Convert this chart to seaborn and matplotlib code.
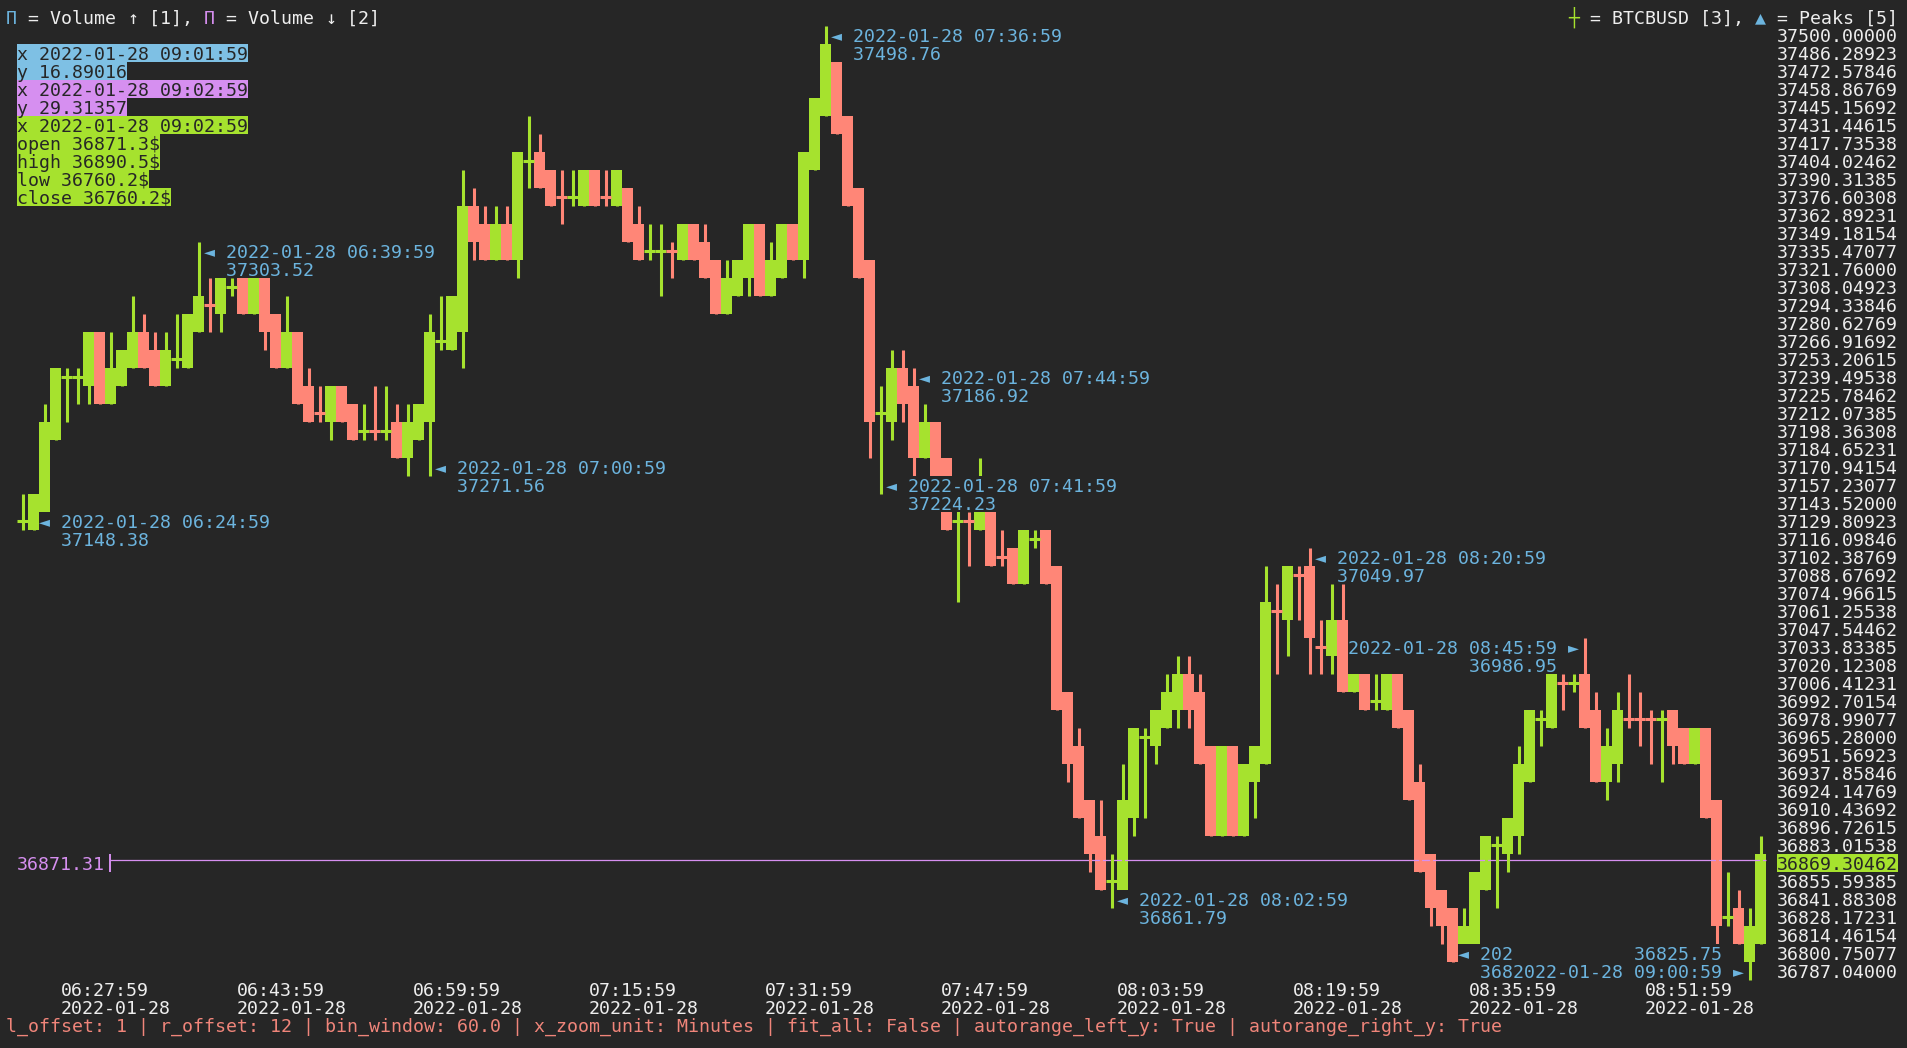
import numpy as np
import matplotlib
matplotlib.use("Agg")
import matplotlib.pyplot as plt
from matplotlib.patches import Rectangle
import seaborn as sns

# ---------------- data ----------------
candle_index = list(range(-1, 158))  # minutes after 2022-01-28 06:24:59

opens = [
    37128.8, 37123.0, 37136.7, 37191.5, 37238.5, 37238.5, 37232.6, 37273.8, 37218.9, 37232.6,
    37246.4, 37273.8, 37260.1, 37232.6, 37252.2, 37246.4, 37273.8, 37295.3, 37287.5, 37307.1,
    37314.9, 37287.5, 37314.9, 37287.5, 37246.4, 37273.8, 37232.6, 37213.1, 37205.2, 37232.6,
    37218.9, 37197.4, 37199.4, 37197.4, 37205.2, 37177.8, 37191.5, 37205.2, 37265.9, 37260.1,
    37273.8, 37369.8, 37356.0, 37328.6, 37356.0, 37328.6, 37403.0, 37410.9, 37397.2, 37377.6,
    37375.6, 37369.8, 37397.2, 37377.6, 37369.8, 37383.5, 37356.0, 37334.5, 37334.5, 37336.5,
    37328.6, 37356.0, 37342.3, 37328.6, 37287.5, 37301.2, 37314.9, 37356.0, 37301.2, 37314.9,
    37356.0, 37328.6, 37397.2, 37438.3, 37479.4, 37438.3, 37383.5, 37328.6, 37211.1, 37205.2,
    37246.4, 37232.6, 37177.8, 37205.2, 37177.8, 37128.8, 37130.8, 37123.0, 37136.7, 37103.4,
    37109.3, 37081.8, 37115.1, 37123.0, 37095.5, 36999.6, 36958.4, 36917.3, 36889.9, 36854.6,
    36848.7, 36903.6, 36964.3, 36958.4, 36972.1, 36985.9, 37013.3, 36999.6, 36958.4, 36889.9,
    36958.4, 36889.9, 36931.0, 36944.7, 37062.3, 37054.4, 37089.7, 37095.5, 37034.8, 37027.0,
    37054.4, 36999.6, 37013.3, 36991.7, 36985.9, 37013.3, 36985.9, 36931.0, 36876.2, 36848.7,
    36835.0, 36807.6, 36807.6, 36848.7, 36882.0, 36876.2, 36889.9, 36931.0, 36978.0, 36972.1,
    37007.4, 37005.4, 37013.3, 36985.9, 36931.0, 36944.7, 36980.0, 36980.0, 36980.0, 36978.0,
    36985.9, 36972.1, 36944.7, 36972.1, 36917.3, 36827.2, 36835.0, 36793.9, 36807.6]

highs = [
    37150.4, 37150.4, 37218.9, 37246.4, 37246.4, 37246.4, 37273.8, 37273.8, 37273.8, 37260.1,
    37301.2, 37287.5, 37273.8, 37273.8, 37287.5, 37287.5, 37342.3, 37314.9, 37314.9, 37314.9,
    37314.9, 37314.9, 37314.9, 37287.5, 37301.2, 37273.8, 37246.4, 37232.6, 37232.6, 37232.6,
    37218.9, 37218.9, 37232.6, 37232.6, 37218.9, 37218.9, 37218.9, 37287.5, 37301.2, 37301.2,
    37397.2, 37383.5, 37369.8, 37369.8, 37369.8, 37410.9, 37438.3, 37424.6, 37397.2, 37397.2,
    37397.2, 37397.2, 37397.2, 37397.2, 37397.2, 37383.5, 37369.8, 37356.0, 37356.0, 37342.3,
    37356.0, 37356.0, 37356.0, 37328.6, 37328.6, 37328.6, 37356.0, 37356.0, 37342.3, 37356.0,
    37356.0, 37410.9, 37452.0, 37506.9, 37479.4, 37438.3, 37383.5, 37328.6, 37232.6, 37260.1,
    37260.1, 37246.4, 37218.9, 37205.2, 37177.8, 37150.4, 37136.7, 37177.8, 37136.7, 37123.0,
    37109.3, 37123.0, 37123.0, 37123.0, 37095.5, 36999.6, 36972.1, 36917.3, 36917.3, 36876.2,
    36944.7, 36972.1, 36972.1, 36985.9, 37013.3, 37027.0, 37027.0, 37013.3, 36958.4, 36958.4,
    36958.4, 36944.7, 36958.4, 37095.5, 37081.8, 37095.5, 37095.5, 37109.3, 37054.4, 37081.8,
    37081.8, 37013.3, 37013.3, 37013.3, 37013.3, 37013.3, 36985.9, 36944.7, 36876.2, 36848.7,
    36835.0, 36835.0, 36862.5, 36889.9, 36889.9, 36903.6, 36958.4, 36985.9, 36985.9, 37013.3,
    37013.3, 37013.3, 37040.7, 36999.6, 36972.1, 36999.6, 37013.3, 36999.6, 36985.9, 36985.9,
    36985.9, 36972.1, 36972.1, 36972.1, 36917.3, 36862.5, 36848.7, 36835.0, 36889.9]

lows = [
    37123.0, 37123.0, 37136.7, 37191.5, 37205.2, 37218.9, 37218.9, 37218.9, 37218.9, 37232.6,
    37246.4, 37246.4, 37232.6, 37232.6, 37246.4, 37246.4, 37273.8, 37273.8, 37273.8, 37301.2,
    37287.5, 37287.5, 37260.1, 37246.4, 37246.4, 37218.9, 37205.2, 37205.2, 37191.5, 37205.2,
    37191.5, 37191.5, 37191.5, 37191.5, 37177.8, 37164.1, 37191.5, 37164.1, 37260.1, 37260.1,
    37246.4, 37328.6, 37328.6, 37328.6, 37328.6, 37314.9, 37383.5, 37383.5, 37369.8, 37356.0,
    37369.8, 37369.8, 37369.8, 37369.8, 37369.8, 37342.3, 37328.6, 37328.6, 37301.2, 37314.9,
    37328.6, 37328.6, 37314.9, 37287.5, 37287.5, 37301.2, 37301.2, 37301.2, 37301.2, 37314.9,
    37328.6, 37314.9, 37397.2, 37438.3, 37424.6, 37369.8, 37314.9, 37177.8, 37150.4, 37191.5,
    37205.2, 37164.1, 37177.8, 37164.1, 37123.0, 37068.1, 37095.5, 37123.0, 37095.5, 37095.5,
    37081.8, 37081.8, 37109.3, 37081.8, 36985.9, 36931.0, 36903.6, 36862.5, 36848.7, 36835.0,
    36848.7, 36889.9, 36903.6, 36944.7, 36972.1, 36972.1, 36972.1, 36944.7, 36889.9, 36889.9,
    36889.9, 36889.9, 36903.6, 36944.7, 37013.3, 37027.0, 37054.4, 37013.3, 37013.3, 37013.3,
    36999.6, 36999.6, 36985.9, 36985.9, 36985.9, 36972.1, 36917.3, 36862.5, 36821.3, 36807.6,
    36793.9, 36807.6, 36807.6, 36848.7, 36835.0, 36862.5, 36876.2, 36931.0, 36958.4, 36972.1,
    36985.9, 36999.6, 36972.1, 36931.0, 36917.3, 36931.0, 36972.1, 36958.4, 36944.7, 36931.0,
    36944.7, 36944.7, 36944.7, 36903.6, 36807.6, 36821.3, 36807.6, 36780.2, 36807.6]

closes = [
    37130.8, 37150.4, 37205.2, 37246.4, 37240.5, 37240.5, 37273.8, 37218.9, 37246.4, 37260.1,
    37273.8, 37246.4, 37232.6, 37260.1, 37254.2, 37287.5, 37301.2, 37293.3, 37314.9, 37309.1,
    37287.5, 37314.9, 37273.8, 37246.4, 37273.8, 37218.9, 37205.2, 37211.1, 37232.6, 37205.2,
    37191.5, 37199.4, 37197.4, 37199.4, 37177.8, 37205.2, 37218.9, 37273.8, 37267.9, 37301.2,
    37369.8, 37342.3, 37328.6, 37356.0, 37328.6, 37410.9, 37405.0, 37383.5, 37369.8, 37375.6,
    37377.6, 37397.2, 37369.8, 37375.6, 37397.2, 37342.3, 37328.6, 37336.5, 37336.5, 37334.5,
    37356.0, 37328.6, 37314.9, 37287.5, 37314.9, 37328.6, 37356.0, 37301.2, 37328.6, 37356.0,
    37328.6, 37410.9, 37452.0, 37493.1, 37424.6, 37369.8, 37314.9, 37205.2, 37213.1, 37246.4,
    37218.9, 37177.8, 37205.2, 37164.1, 37123.0, 37130.8, 37128.8, 37136.7, 37095.5, 37101.4,
    37081.8, 37123.0, 37117.1, 37081.8, 36985.9, 36944.7, 36903.6, 36876.2, 36848.7, 36856.6,
    36917.3, 36972.1, 36966.3, 36985.9, 36999.6, 37013.3, 36985.9, 36944.7, 36889.9, 36958.4,
    36889.9, 36944.7, 36958.4, 37068.1, 37060.3, 37095.5, 37087.7, 37040.7, 37032.8, 37054.4,
    36999.6, 37013.3, 36985.9, 36993.7, 37013.3, 36972.1, 36917.3, 36862.5, 36835.0, 36821.3,
    36793.9, 36821.3, 36862.5, 36889.9, 36884.0, 36903.6, 36944.7, 36985.9, 36980.0, 37013.3,
    37005.4, 37007.4, 36972.1, 36931.0, 36958.4, 36985.9, 36978.0, 36978.0, 36978.0, 36980.0,
    36958.4, 36944.7, 36972.1, 36903.6, 36821.3, 36829.2, 36807.6, 36821.3, 36876.2]

tick_index = [3, 19, 35, 51, 67, 83, 99, 115, 131, 147]
tick_times = ["06:27:59", "06:43:59", "06:59:59", "07:15:59", "07:31:59",
              "07:47:59", "08:03:59", "08:19:59", "08:35:59", "08:51:59"]
tick_dates = ["2022-01-28"] * 10

y_tick_top, y_tick_bottom, y_tick_count = 37500.0, 36787.04, 53

peak_index = [0, 15, 36, 72, 77, 80, 98, 116, 129, 141, 156]
peak_times = ["06:24:59", "06:39:59", "07:00:59", "07:36:59", "07:41:59", "07:44:59",
              "08:02:59", "08:20:59", "08:33:59", "08:45:59", "09:00:59"]
peak_values = [37148.38, 37303.52, 37271.56, 37498.76, 37224.23, 37186.92,
               36861.79, 37049.97, 36802.16, 36986.95, 36825.75]
peak_rows = [27, 12, 24, 0, 25, 19, 48, 29, 51, 34, 52]
peak_side = ["L", "L", "L", "L", "L", "L", "L", "L", "L", "R", "R"]
peak_flip = [False] * 10 + [True]

hline_price = 36871.31
hline_axis_value = 36869.30462

info_lines = ["x 2022-01-28 09:01:59", "y 16.89016",
              "x 2022-01-28 09:02:59", "y 29.31357",
              "x 2022-01-28 09:02:59", "open 36871.3$", "high 36890.5$",
              "low 36760.2$", "close 36760.2$"]
status_line = ("l_offset: 1 | r_offset: 12 | bin_window: 60.0 | x_zoom_unit: Minutes | "
               "fit_all: False | autorange_left_y: True | autorange_right_y: True")

# ---------------- style ----------------
W, H = 1907, 1048
BG = "#262626"
FG = "#eeeeee"
UP = "#a6e22e"
DOWN = "#ff8677"
BLUE = "#6cb4de"
INFO_BLUE = "#7ec0e4"
PINK = "#d68ff0"
STATUS = "#f0857a"
DARK = "#262626"
FS = 13.15
CW, CH = 11, 18      # terminal cell size in pixels
COL0, ROW0 = 6, 35   # left of column 0, centre of row 0

sns.set_theme(style="dark", rc={"axes.facecolor": BG, "figure.facecolor": BG,
                                "savefig.facecolor": BG})
plt.rcParams["font.family"] = ["DejaVu Sans Mono", "DejaVu Sans"]

fig = plt.figure(figsize=(W / 100, H / 100), dpi=100)
ax = fig.add_axes([0, 0, 1, 1])
ax.set_facecolor(BG)
ax.set_axisbelow(False)
for s in ax.spines.values():
    s.set_visible(False)
ax.grid(False)

# pixel <-> data mapping of the terminal grid
px_per_price = CH / 13.71077
ax.set_xlim((0 - (COL0 + 2 * CW + CW / 2)) / CW, (W - (COL0 + 2 * CW + CW / 2)) / CW)
ax.set_ylim(y_tick_top - (H - ROW0) / px_per_price, y_tick_top + ROW0 / px_per_price)

x = np.array(candle_index, dtype=float)
o = np.array(opens); h = np.array(highs); l = np.array(lows); c = np.array(closes)
up = c >= o
doji = np.abs(c - o) < 3
cols = np.where(up, UP, DOWN)

nd = ~doji
ax.bar(x[nd], np.abs(c - o)[nd], bottom=np.minimum(o, c)[nd], width=1.0,
       color=cols[nd], linewidth=0, antialiased=False, zorder=2)
ax.hlines(hline_price, (110 - 33.5) / CW, (1766 - 33.5) / CW, colors=PINK,
          linewidth=0.9, zorder=2.1)
ax.vlines(x, l, h, colors=cols, linewidth=2.2, zorder=2.2)
ax.hlines(((o + c) / 2)[doji], x[doji] - 0.5, x[doji] + 0.5, colors=cols[doji],
          linewidth=2.2, zorder=2.3)
ax.vlines((110 - 33.5) / CW, 36862.45, 36876.16, colors=PINK, linewidth=1.4, zorder=2.1)

# right price axis
yticks = np.linspace(y_tick_top, y_tick_bottom, y_tick_count)
ax.yaxis.tick_right()
ax.set_yticks(yticks)
ax.set_yticklabels([f"{v:.5f}" for v in yticks])
ax.tick_params(axis="y", which="both", length=0, pad=-(W - 1777) * 0.72,
               labelsize=FS, labelcolor=FG)
hl_i = int(np.argmin(np.abs(yticks - hline_axis_value)))
for t in ax.yaxis.get_major_ticks()[hl_i:hl_i + 1]:
    t.label1.set_color(DARK)
    t.label2.set_color(DARK)
ax.add_patch(Rectangle((158.5, 36862.45), 11.0, 13.71077, facecolor=UP,
                       edgecolor="none", clip_on=False, zorder=2.4))

# bottom time axis (two rows of labels)
tick_pos = [i - 0.5 for i in tick_index]
ax.set_xticks(tick_pos)
ax.set_xticklabels(tick_times)
ax.set_xticks(tick_pos, minor=True)
ax.set_xticklabels(tick_dates, minor=True)
ax.xaxis.remove_overlapping_locs = False
ax.tick_params(axis="x", which="major", length=0, pad=-(H - 981.8) * 0.72,
               labelsize=FS, labelcolor=FG)
ax.tick_params(axis="x", which="minor", length=0, pad=-(H - 999.8) * 0.72,
               labelsize=FS, labelcolor=FG)
for t in ax.xaxis.get_major_ticks() + ax.xaxis.get_minor_ticks():
    t.label1.set_horizontalalignment("left")


# ---------------- terminal-style text ----------------
def cell_text(col, row, s, color, bg=None, z=10):
    yc = ROW0 + CH * row
    if bg is not None:
        fig.add_artist(Rectangle(((COL0 + CW * col) / W, 1 - (yc + CH / 2) / H),
                                 len(s) * CW / W, CH / H, transform=fig.transFigure,
                                 facecolor=bg, edgecolor="none", zorder=z - 0.5))
    run, start = "", col
    for i, ch in enumerate(s + "\0"):
        if ch == "\0" or ord(ch) > 127:
            if run.strip():
                fig.text((COL0 + CW * start) / W, 1 - (yc + 6.6) / H, run, color=color,
                         fontsize=FS, ha="left", va="baseline", zorder=z)
            if ch != "\0":
                fig.text((COL0 + CW * (col + i) + CW / 2) / W, 1 - (yc + 6.6) / H, ch,
                         color=color, fontsize=FS, ha="center", va="baseline", zorder=z)
            run, start = "", col + i + 1
        else:
            run += ch


# legends
cell_text(0, -1, "Π", BLUE)
cell_text(1, -1, " = Volume ↑ [1], ", FG)
cell_text(18, -1, "Π", PINK)
cell_text(19, -1, " = Volume ↓ [2]", FG)
cell_text(142, -1, "┼", UP)
cell_text(143, -1, " = BTCBUSD [3], ", FG)
cell_text(159, -1, "▲", BLUE)
cell_text(160, -1, " = Peaks [5]", FG)

# crosshair info box
info_bg = [INFO_BLUE, INFO_BLUE, PINK, PINK, UP, UP, UP, UP, UP]
for k, (txt, bgc) in enumerate(zip(info_lines, info_bg)):
    cell_text(1, 1 + k, txt, DARK, bg=bgc)

# horizontal line label
cell_text(1, 46, f"{hline_price:.2f}", PINK)

# peak annotations
for n, (pi, pt, pv, pr, side, flip) in enumerate(zip(peak_index, peak_times, peak_values,
                                                   peak_rows, peak_side, peak_flip)):
    z = 20 + 2 * n
    if side == "L":
        cell_text(pi + 3, pr, f"◄ 2022-01-28 {pt}", BLUE, bg=BG, z=z)
        cell_text(pi + 3, pr + 1, f"  {pv:.2f}", BLUE, bg=BG, z=z)
    else:
        start = pi + 1 - 20
        vrow = pr - 1 if flip else pr + 1
        cell_text(start, vrow, f"{pv:.2f}".rjust(19), BLUE, bg=BG, z=z)
        cell_text(start, pr, f"2022-01-28 {pt} ►", BLUE, bg=BG, z=z)

# status line
cell_text(0, 55, status_line, STATUS)

fig.savefig("out.png", dpi=100, facecolor=BG)
